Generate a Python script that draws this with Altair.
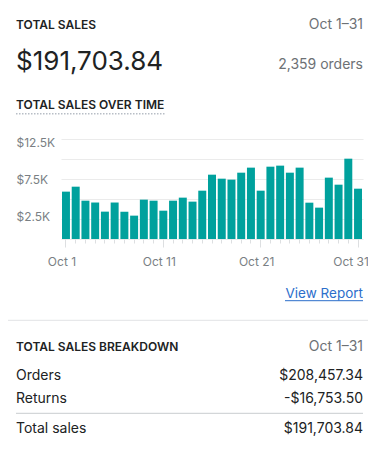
import altair as alt
import pandas as pd

# ---------------- data ----------------
month = "Oct"
days = list(range(1, 32))
sales = [5920, 6540, 4790, 4560, 3420, 4560, 3420, 2920, 4920, 4790,
         3540, 4790, 5170, 4670, 6040, 8040, 7540, 7420, 8290, 8920,
         6040, 9040, 9170, 8290, 8920, 4540, 3920, 7670, 6790, 10040, 6290]
labeled_days = [1, 11, 21, 31]
y_ticks = [0, 2500, 5000, 7500, 10000, 12500]

title_text = "TOTAL SALES"
period_text = "Oct 1–31"
total_text = "$191,703.84"
orders_text = "2,359 orders"
chart_title = "TOTAL SALES OVER TIME"
link_text = "View Report"
breakdown_title = "TOTAL SALES BREAKDOWN"
breakdown_labels = ["Orders", "Returns", "Total sales"]
breakdown_values = ["$208,457.34", "-$16,753.50", "$191,703.84"]

# ---------------- style ----------------
FONT = "Inter"
TEAL = "#00A19D"
DARK = "#202223"
GREY = "#6D7175"
AXIS_GREY = "#7A7F84"
GRID = "#EBEBEB"
BLUE = "#2C6ECB"

df = pd.DataFrame({"day": days, "sales": sales})
one = alt.Data(values=[{}])

lab_arr = "[" + ",".join(str(d) for d in labeled_days) + "]"
is_major = f"indexof({lab_arr}, datum.value) >= 0"
last_day = days[-1]

bars = alt.Chart(df).mark_bar(color=TEAL).encode(
    x=alt.X(
        "day:O",
        scale=alt.Scale(paddingInner=0.18, paddingOuter=0.1),
        axis=alt.Axis(
            title=None,
            labelAngle=0,
            labelExpr=f"{is_major} ? '{month} ' + datum.value : ''",
            labelFont=FONT,
            labelFontSize=12,
            labelColor=AXIS_GREY,
            labelOffset={"condition": {"test": f"datum.value == {last_day}", "value": -7},
                         "value": -4},
            labelPadding=9,
            labelOverlap=False,
            domain=False,
            grid=False,
            ticks=True,
            tickColor="#DDDFE1",
            tickSize={"condition": {"test": is_major, "value": 8}, "value": 4},
        ),
    ),
    y=alt.Y(
        "sales:Q",
        scale=alt.Scale(domain=[0, 12500], nice=False),
        axis=alt.Axis(
            title=None,
            values=y_ticks,
            labelExpr="datum.value % 5000 == 2500 ? '$' + format(datum.value / 1000, '.1f') + 'K' : ''",
            labelFont=FONT,
            labelFontSize=12,
            labelColor=AXIS_GREY,
            labelAlign="left",
            labelBaseline="middle",
            labelPadding=45,
            labelOffset={"condition": [
                {"test": "datum.value == 12500", "value": 3},
                {"test": "datum.value == 2500", "value": -2.5},
            ], "value": 0},
            ticks=False,
            domain=False,
            grid=True,
            gridColor=GRID,
            gridWidth=1,
        ),
    ),
)


def txt(s, x, y, size, color=DARK, weight="normal", align="left"):
    return alt.Chart(one).mark_text(
        align=align, baseline="alphabetic", font=FONT, fontSize=size,
        fontWeight=weight, color=color,
    ).encode(x=alt.value(x), y=alt.value(y), text=alt.value(s))


def rule(x1, x2, y, color, width=1, dash=None):
    kw = dict(color=color, strokeWidth=width)
    if dash:
        kw["strokeDash"] = dash
    return alt.Chart(one).mark_rule(**kw).encode(
        x=alt.value(x1), x2=alt.value(x2), y=alt.value(y))


L = -45
R = 302

layers = [
    bars,
    txt(title_text, L, -110.3, 12, weight=600),
    txt(period_text, R, -110.3, 14, color=GREY, align="right"),
    txt(total_text, L, -69, 26),
    txt(orders_text, R, -70.3, 14, color=GREY, align="right"),
    txt(chart_title, L, -30.3, 12, weight=600),
    rule(L, 104.7, -25.3, "#B8BEC6", width=1.5, dash=[1.5, 1.5]),
    txt(link_text, R, 159.3, 13.5, color=BLUE, align="right"),
    rule(224, R, 161.7, BLUE),
    rule(-53, 307, 181.3, "#E1E3E5"),
    txt(breakdown_title, L, 212, 12, weight=600),
    txt(period_text, R, 212, 14, color=GREY, align="right"),
    txt(breakdown_labels[0], L, 241, 14),
    txt(breakdown_values[0], R, 241, 14, align="right"),
    txt(breakdown_labels[1], L, 264.3, 14),
    txt(breakdown_values[1], R, 264.3, 14, align="right"),
    rule(L, R, 274.3, "#C9CCCF"),
    txt(breakdown_labels[2], L, 293.7, 14),
    txt(breakdown_values[2], R, 293.7, 14, align="right"),
]

chart = alt.layer(*layers).properties(
    width=302,
    height=100,
    autosize=alt.AutoSizeParams(type="none"),
    padding={"left": 53, "top": 131, "right": 5, "bottom": 200},
    background="white",
).configure_view(stroke=None)

chart.save("out.html", embed_options={"renderer": "svg", "actions": False})
